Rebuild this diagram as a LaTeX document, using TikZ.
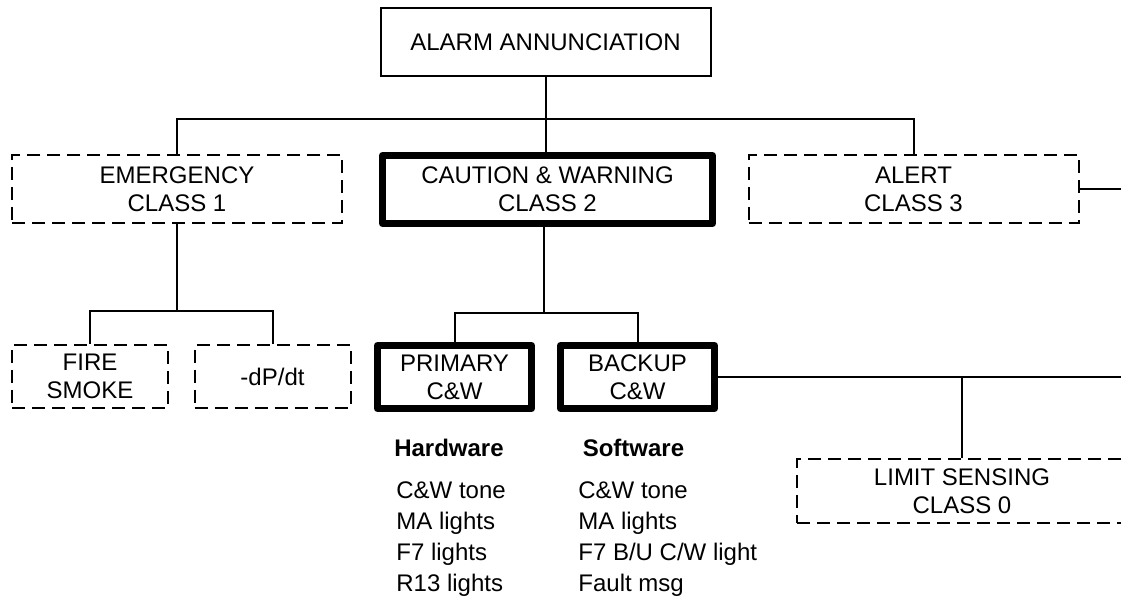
\documentclass[tikz,border=0pt]{standalone}
\usepackage{fontspec}
\setmainfont{Liberation Sans}

\begin{document}
\begin{tikzpicture}[
    x=0.5pt,
    y=-0.5pt,
    every node/.style={font=\fontsize{12}{14}\selectfont},
    box/.style={draw, line width=1pt, minimum width=165pt, minimum height=34pt,
                inner sep=0pt, align=center},
    optbox/.style={box, dash pattern=on 6.5pt off 3.5pt},
    heavybox/.style={box, line width=3.5pt, line join=round},
    smallopt/.style={optbox, minimum width=78pt, minimum height=31.5pt},
    smallheavy/.style={heavybox, minimum width=77pt, minimum height=31.5pt},
    wire/.style={line width=1pt},
    heading/.style={anchor=base, font=\fontsize{12}{14}\selectfont\bfseries},
    listing/.style={anchor=north west, inner sep=0pt, align=left,
                    font=\fontsize{12}{15.5}\selectfont},
]
    \useasboundingbox (0,0) rectangle (1121,598);
    \clip (0,0) rectangle (1121,598);

    \node[box]        (alarm)   at (545.5,42)    {ALARM ANNUNCIATION};
    \node[optbox]     (emerg)   at (177,189)     {EMERGENCY\\CLASS 1};
    \node[heavybox]   (caution) at (547.5,189.5) {CAUTION \& WARNING\\CLASS 2};
    \node[optbox]     (alert)   at (913.5,189)   {ALERT\\CLASS 3};

    \node[smallopt]   (fire)    at (90,376.5)    {FIRE\\SMOKE};
    \node[smallopt]   (dpdt)    at (272.5,376.5) {-dP/dt};
    \node[smallheavy] (primary) at (454.5,377)   {PRIMARY\\C\&W};
    \node[smallheavy] (backup)  at (637.5,377)   {BACKUP\\C\&W};
    \node[optbox, minimum height=32pt] (limit) at (962,491) {LIMIT SENSING\\CLASS 0};

    \node[heading]    (hw)      at (449,457)     {Hardware};
    \node[heading]    (sw)      at (633.5,457)   {Software};
    \node[listing]    (hwlist)  at (396,481)     {C\&W tone\\MA lights\\F7 lights\\R13 lights};
    \node[listing]    (swlist)  at (578,481)     {C\&W tone\\MA lights\\F7 B/U C/W light\\Fault msg};

    \coordinate (ejoin) at (177,311);
    \coordinate (cjoin) at (544,313);
    \coordinate (rim)   at (1130,0);

    % class level
    \draw[wire] (alarm.south) -- (alarm.south |- caution.north);
    \draw[wire] (emerg.north) -- ++(0,-35) -| (alert.north);
    \draw[wire] (alert.east) -- (alert.east -| rim);

    % emergency branch
    \draw[wire] (emerg.south) -- (ejoin);
    \draw[wire] (fire.north) |- (ejoin) -| (dpdt.north);

    % caution & warning branch
    \draw[wire] (cjoin |- caution.south) -- (cjoin);
    \draw[wire] (primary.north) |- (cjoin) -| (backup.north);
    \draw[wire] (backup.east) -- (backup.east -| rim);
    \draw[wire] (limit.north) -- (limit.north |- backup.east);
\end{tikzpicture}
\end{document}
